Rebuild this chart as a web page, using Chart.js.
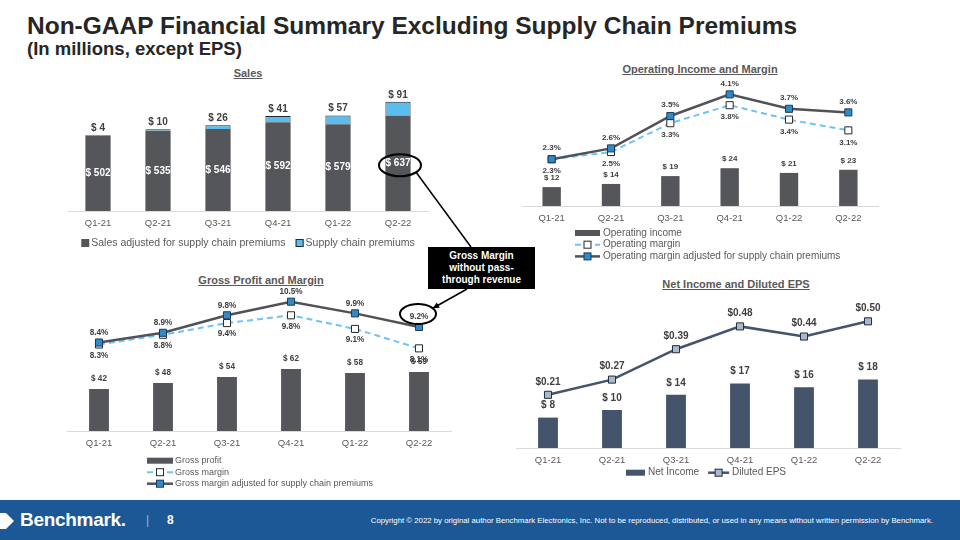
<!DOCTYPE html>
<html>
<head>
<meta charset="utf-8">
<script src="https://cdn.jsdelivr.net/npm/chart.js@4.4.0/dist/chart.umd.min.js"></script>
<style>
  body { margin: 0; width: 960px; height: 540px; position: relative; overflow: hidden; background: #fff;
         font-family: "Liberation Sans", Arial, sans-serif; }
  .abs { position: absolute; }
  #title { left: 27px; top: 12px; font-size: 24.5px; font-weight: bold; color: #262626; white-space: nowrap; }
  #subtitle { left: 27px; top: 38px; font-size: 18.5px; font-weight: bold; color: #262626; white-space: nowrap; }
  .ctitle { font-size: 11px; font-weight: bold; color: #595959; text-decoration: underline; text-align: center;
            width: 300px; line-height: 12px; white-space: nowrap; }
  #callout { left: 428px; top: 247px; width: 107px; height: 42px; background: #000; color: #fff; font-size: 10px;
             font-weight: bold; text-align: center; line-height: 12px; padding-top: 3px; box-sizing: border-box; }
  #overlay { left: 0; top: 0; width: 960px; height: 540px; pointer-events: none; }
  #footer { left: 0; top: 500px; width: 960px; height: 40px; background: #1C5896; color: #fff; }
  #brand { left: 20px; top: 9px; font-size: 19px; font-weight: bold; letter-spacing: -0.3px; }
  #sep { left: 146px; top: 13px; font-size: 12px; color: #9fb6d3; }
  #page { left: 167px; top: 13px; font-size: 12px; font-weight: bold; }
  #copy { right: 27px; top: 16px; font-size: 7.8px; white-space: nowrap; }
</style>
</head>
<body>
<div id="title" class="abs">Non-GAAP Financial Summary Excluding Supply Chain Premiums</div>
<div id="subtitle" class="abs">(In millions, except EPS)</div>

<div class="abs ctitle" style="left:98px;top:67px;">Sales</div>
<div class="abs ctitle" style="left:550px;top:63px;">Operating Income and Margin</div>
<div class="abs ctitle" style="left:111px;top:274px;">Gross Profit and Margin</div>
<div class="abs ctitle" style="left:586px;top:278px;">Net Income and Diluted EPS</div>

<div class="abs" style="left:20px;top:78px;width:460px;height:193px;"><canvas id="salesChart"></canvas></div>
<div class="abs" style="left:490px;top:62px;width:420px;height:228px;"><canvas id="opChart"></canvas></div>
<div class="abs" style="left:20px;top:276px;width:460px;height:245px;"><canvas id="grossChart"></canvas></div>
<div class="abs" style="left:490px;top:282px;width:440px;height:226px;"><canvas id="netChart"></canvas></div>

<div id="callout" class="abs">Gross Margin<br>without pass-<br>through revenue</div>
<canvas id="overlay" class="abs"></canvas>

<div id="footer" class="abs">
  <svg class="abs" style="left:0;top:11px" width="16" height="20"><polygon points="0,2 6,2 14,10 6,18 0,18" fill="#fff"/></svg>
  <div id="brand" class="abs">Benchmark.</div>
  <div id="sep" class="abs">|</div>
  <div id="page" class="abs">8</div>
  <div id="copy" class="abs">Copyright © 2022 by original author Benchmark Electronics, Inc. Not to be reproduced, distributed, or used in any means without written permission by Benchmark.</div>
</div>

<script>
const FONT = '"Liberation Sans", Arial, sans-serif';

// Data
const quarters = ['Q1-21', 'Q2-21', 'Q3-21', 'Q4-21', 'Q1-22', 'Q2-22'];
const salesAdjusted = [502, 535, 546, 592, 579, 637];
const supplyPremiums = [4, 10, 26, 41, 57, 91];
const opIncome = [12, 14, 19, 24, 21, 23];
const opMargin = [2.3, 2.5, 3.3, 3.8, 3.4, 3.1];
const opMarginAdj = [2.3, 2.6, 3.5, 4.1, 3.7, 3.6];
const grossProfit = [42, 48, 54, 62, 58, 59];
const grossMargin = [8.3, 8.8, 9.4, 9.8, 9.1, 8.1];
const grossMarginAdj = [8.4, 8.9, 9.8, 10.5, 9.9, 9.2];
const netIncome = [8, 10, 14, 17, 16, 18];
const dilutedEps = [0.21, 0.27, 0.39, 0.48, 0.44, 0.50];

const money = v => '$ ' + v;
const pct = v => v.toFixed(1) + '%';
const eps = v => '$' + v.toFixed(2);

// value labels drawn next to bars / points
const valueLabels = {
    id: 'valueLabels',
    afterDatasetsDraw(chart, args, opts) {
        const ctx = chart.ctx;
        (opts.sets || []).forEach(s => {
            const meta = chart.getDatasetMeta(s.ds);
            const data = chart.data.datasets[s.ds].data;
            ctx.save();
            ctx.font = s.font;
            ctx.fillStyle = s.color;
            ctx.textAlign = 'center';
            ctx.textBaseline = 'middle';
            meta.data.forEach((el, i) => {
                const y = s.pos === 'center' ? (el.y + el.base) / 2 : el.y + s.dy;
                ctx.fillText(s.fmt(data[i]), el.x, y);
            });
            ctx.restore();
        });
    }
};

function drawSwatch(ctx, it, ds, x, y) {
    if (it.type === 'box') {
        ctx.fillStyle = ds.backgroundColor;
        ctx.fillRect(x, y - it.h / 2, it.w, it.h);
        if (it.stroke) {
            ctx.strokeStyle = ds.borderColor;
            ctx.lineWidth = 1;
            ctx.strokeRect(x + 0.5, y - it.h / 2 + 0.5, it.w - 1, it.h - 1);
        }
    } else {
        ctx.strokeStyle = ds.borderColor;
        ctx.lineWidth = ds.borderWidth;
        ctx.setLineDash(ds.borderDash || []);
        ctx.beginPath();
        ctx.moveTo(x, y);
        ctx.lineTo(x + it.w, y);
        ctx.stroke();
        ctx.setLineDash([]);
        const s = 7;
        ctx.fillStyle = ds.pointBackgroundColor;
        ctx.fillRect(x + it.w / 2 - s / 2, y - s / 2, s, s);
        ctx.strokeStyle = ds.pointBorderColor;
        ctx.lineWidth = 1;
        ctx.strokeRect(x + it.w / 2 - s / 2, y - s / 2, s, s);
    }
}

// legend drawn below the axis, as a row or a column
const slideLegend = {
    id: 'slideLegend',
    afterDraw(chart, args, opts) {
        const ctx = chart.ctx, area = chart.chartArea;
        ctx.save();
        ctx.font = opts.font;
        ctx.textBaseline = 'middle';
        ctx.textAlign = 'left';
        const items = opts.items.map(it => {
            const ds = chart.data.datasets[it.ds];
            return { it, ds, tw: ctx.measureText(ds.label).width };
        });
        if (opts.layout === 'row') {
            const total = items.reduce((s, o) => s + o.it.w + opts.gap + o.tw, 0) + opts.spacing * (items.length - 1);
            let x = (area.left + area.right) / 2 - total / 2 + (opts.shiftX || 0);
            const y = area.bottom + opts.dy;
            items.forEach(o => {
                drawSwatch(ctx, o.it, o.ds, x, y);
                x += o.it.w + opts.gap;
                ctx.fillStyle = '#595959';
                ctx.fillText(o.ds.label, x, y);
                x += o.tw + opts.spacing;
            });
        } else {
            const x = area.left + opts.dx;
            let y = area.bottom + opts.dy;
            items.forEach(o => {
                drawSwatch(ctx, o.it, o.ds, x, y);
                ctx.fillStyle = '#595959';
                ctx.fillText(o.ds.label, x + o.it.w + opts.gap, y);
                y += opts.lineH;
            });
        }
        ctx.restore();
    }
};

function xAxis(stacked) {
    return {
        stacked: !!stacked,
        grid: { display: false, drawTicks: false },
        border: { display: true, color: '#D9D9D9', width: 1 },
        ticks: { color: '#595959', font: { size: 9.5, family: FONT }, padding: 7 },
        afterFit: s => { s.height = 24; }
    };
}

function baseOptions(padding, scales, plugins) {
    return {
        responsive: true,
        maintainAspectRatio: false,
        animation: false,
        layout: { padding },
        scales,
        plugins: Object.assign({ legend: { display: false }, tooltip: { enabled: false } }, plugins)
    };
}

Chart.defaults.font.family = FONT;

const squarePoint = (fill, border) => ({
    pointStyle: 'rect', pointRadius: 5, pointBackgroundColor: fill, pointBorderColor: border, pointBorderWidth: 1
});

// Sales
const salesChart = new Chart(document.getElementById('salesChart'), {
    type: 'bar',
    data: {
        labels: quarters,
        datasets: [
            { label: 'Sales adjusted for supply chain premiums', data: salesAdjusted, backgroundColor: '#55565A',
              borderColor: '#55565A', borderWidth: 0, categoryPercentage: 1, barPercentage: 0.42 },
            { label: 'Supply chain premiums', data: supplyPremiums, backgroundColor: '#5BBDEE',
              borderColor: '#262626', borderWidth: 1, categoryPercentage: 1, barPercentage: 0.42 }
        ]
    },
    options: baseOptions({ left: 48, right: 52, top: 13, bottom: 36 }, {
        x: xAxis(true),
        y: { display: false, stacked: true, min: 0, max: 800 }
    }, {
        valueLabels: { sets: [
            { ds: 0, pos: 'center', font: 'bold 10px ' + FONT, color: '#ffffff', fmt: money },
            { ds: 1, pos: 'top', dy: -7, font: 'bold 10px ' + FONT, color: '#404040', fmt: money }
        ] },
        slideLegend: { layout: 'row', dy: 32, font: '10.5px ' + FONT, gap: 2, spacing: 10,
            items: [{ ds: 0, type: 'box', w: 8, h: 8 }, { ds: 1, type: 'box', w: 8, h: 8, stroke: true }] }
    }),
    plugins: [valueLabels, slideLegend]
});

// Operating income and margin
const opChart = new Chart(document.getElementById('opChart'), {
    type: 'bar',
    data: {
        labels: quarters,
        datasets: [
            { label: 'Operating income', data: opIncome, backgroundColor: '#55565A', yAxisID: 'y', order: 3,
              categoryPercentage: 1, barPercentage: 0.31 },
            Object.assign({ type: 'line', label: 'Operating margin', data: opMargin, yAxisID: 'y2', order: 2,
              borderColor: '#6EC3F2', borderWidth: 2, borderDash: [6, 4], tension: 0 }, squarePoint('#ffffff', '#262626')),
            Object.assign({ type: 'line', label: 'Operating margin adjusted for supply chain premiums', data: opMarginAdj,
              yAxisID: 'y2', order: 1, borderColor: '#505257', borderWidth: 2.5, tension: 0 }, squarePoint('#2D8BC9', '#1E3A52'))
        ]
    },
    options: baseOptions({ left: 32, right: 32, top: 18, bottom: 60 }, {
        x: xAxis(false),
        y: { display: false, min: 0, max: 80 },
        y2: { display: false, min: 1, max: 4.5 }
    }, {
        valueLabels: { sets: [
            { ds: 0, pos: 'top', dy: -9, font: 'bold 8px ' + FONT, color: '#404040', fmt: money },
            { ds: 1, pos: 'top', dy: 12, font: 'bold 8px ' + FONT, color: '#404040', fmt: pct },
            { ds: 2, pos: 'top', dy: -11, font: 'bold 8px ' + FONT, color: '#404040', fmt: pct }
        ] },
        slideLegend: { layout: 'column', dx: 53, dy: 27, lineH: 11.7, font: '10px ' + FONT, gap: 3,
            items: [{ ds: 0, type: 'box', w: 25, h: 6 }, { ds: 1, type: 'line', w: 25 }, { ds: 2, type: 'line', w: 25 }] }
    }),
    plugins: [valueLabels, slideLegend]
});

// Gross profit and margin
const grossChart = new Chart(document.getElementById('grossChart'), {
    type: 'bar',
    data: {
        labels: quarters,
        datasets: [
            { label: 'Gross profit', data: grossProfit, backgroundColor: '#55565A', yAxisID: 'y', order: 3,
              categoryPercentage: 1, barPercentage: 0.31 },
            Object.assign({ type: 'line', label: 'Gross margin', data: grossMargin, yAxisID: 'y2', order: 2,
              borderColor: '#6EC3F2', borderWidth: 2, borderDash: [6, 4], tension: 0 }, squarePoint('#ffffff', '#262626')),
            Object.assign({ type: 'line', label: 'Gross margin adjusted for supply chain premiums', data: grossMarginAdj,
              yAxisID: 'y2', order: 1, borderColor: '#505257', borderWidth: 2.5, tension: 0 }, squarePoint('#2D8BC9', '#1E3A52'))
        ]
    },
    options: baseOptions({ left: 47, right: 29, top: 15, bottom: 66 }, {
        x: xAxis(false),
        y: { display: false, min: 0, max: 140 },
        y2: { display: false, min: 3.85, max: 11.05 }
    }, {
        valueLabels: { sets: [
            { ds: 0, pos: 'top', dy: -10, font: 'bold 8.2px ' + FONT, color: '#404040', fmt: money },
            { ds: 1, pos: 'top', dy: 11, font: 'bold 8.2px ' + FONT, color: '#404040', fmt: pct },
            { ds: 2, pos: 'top', dy: -10, font: 'bold 8.2px ' + FONT, color: '#404040', fmt: pct }
        ] },
        slideLegend: { layout: 'column', dx: 80, dy: 29.7, lineH: 11.5, font: '9px ' + FONT, gap: 2,
            items: [{ ds: 0, type: 'box', w: 26, h: 6 }, { ds: 1, type: 'line', w: 26 }, { ds: 2, type: 'line', w: 26 }] }
    }),
    plugins: [valueLabels, slideLegend]
});

// Net income and diluted EPS
const netChart = new Chart(document.getElementById('netChart'), {
    type: 'bar',
    data: {
        labels: quarters,
        datasets: [
            { label: 'Net Income', data: netIncome, backgroundColor: '#44546A', yAxisID: 'y', order: 2,
              categoryPercentage: 1, barPercentage: 0.31 },
            Object.assign({ type: 'line', label: 'Diluted EPS', data: dilutedEps, yAxisID: 'y2', order: 1,
              borderColor: '#44546A', borderWidth: 2.5, tension: 0 }, squarePoint('#A9B9CF', '#1F2A38'))
        ]
    },
    options: baseOptions({ left: 26, right: 30, top: 14, bottom: 36 }, {
        x: xAxis(false),
        y: { display: false, min: 0, max: 40 },
        y2: { display: false, min: 0, max: 0.6 }
    }, {
        valueLabels: { sets: [
            { ds: 0, pos: 'top', dy: -12, font: 'bold 10px ' + FONT, color: '#404040', fmt: money },
            { ds: 1, pos: 'top', dy: -13, font: 'bold 10px ' + FONT, color: '#404040', fmt: eps }
        ] },
        slideLegend: { layout: 'row', dy: 24.7, shiftX: -2, font: '10px ' + FONT, gap: 3, spacing: 9,
            items: [{ ds: 0, type: 'box', w: 19, h: 6 }, { ds: 1, type: 'line', w: 21 }] }
    }),
    plugins: [valueLabels, slideLegend]
});

// callout: ellipses round two labels, linked to the black box
function drawCallout() {
    const ov = document.getElementById('overlay');
    const dpr = window.devicePixelRatio || 1;
    ov.width = 960 * dpr;
    ov.height = 540 * dpr;
    const ctx = ov.getContext('2d');
    ctx.scale(dpr, dpr);
    const at = (chart, dsIndex, i, dyFn) => {
        const r = chart.canvas.getBoundingClientRect();
        const el = chart.getDatasetMeta(dsIndex).data[i];
        return { x: r.left + el.x, y: r.top + dyFn(el) };
    };
    const e1 = at(salesChart, 0, 5, el => (el.y + el.base) / 2);
    const c1 = { x: e1.x + 2, y: e1.y + 2, rx: 21, ry: 11 };
    const e2 = at(grossChart, 2, 5, el => el.y - 13);
    const c2 = { x: e2.x - 1, y: e2.y, rx: 18, ry: 10 };

    ctx.strokeStyle = '#000';
    ctx.lineWidth = 2;
    [c1, c2].forEach(c => {
        ctx.beginPath();
        ctx.ellipse(c.x, c.y, c.rx, c.ry, 0, 0, Math.PI * 2);
        ctx.stroke();
    });

    const box = document.getElementById('callout').getBoundingClientRect();
    ctx.lineWidth = 1.5;
    const a1 = 40 * Math.PI / 180;
    ctx.beginPath();
    ctx.moveTo(c1.x + c1.rx * Math.cos(a1), c1.y + c1.ry * Math.sin(a1));
    ctx.lineTo(box.left + 43, box.top);
    ctx.stroke();

    const a2 = -35 * Math.PI / 180;
    const tip = { x: c2.x + c2.rx * Math.cos(a2), y: c2.y + c2.ry * Math.sin(a2) };
    const start = { x: box.left + 39, y: box.bottom };
    ctx.beginPath();
    ctx.moveTo(start.x, start.y);
    ctx.lineTo(tip.x, tip.y);
    ctx.stroke();
    const ang = Math.atan2(tip.y - start.y, tip.x - start.x);
    ctx.fillStyle = '#000';
    ctx.beginPath();
    ctx.moveTo(tip.x, tip.y);
    ctx.lineTo(tip.x - 7 * Math.cos(ang - 0.45), tip.y - 7 * Math.sin(ang - 0.45));
    ctx.lineTo(tip.x - 7 * Math.cos(ang + 0.45), tip.y - 7 * Math.sin(ang + 0.45));
    ctx.closePath();
    ctx.fill();
}
drawCallout();
</script>
</body>
</html>
